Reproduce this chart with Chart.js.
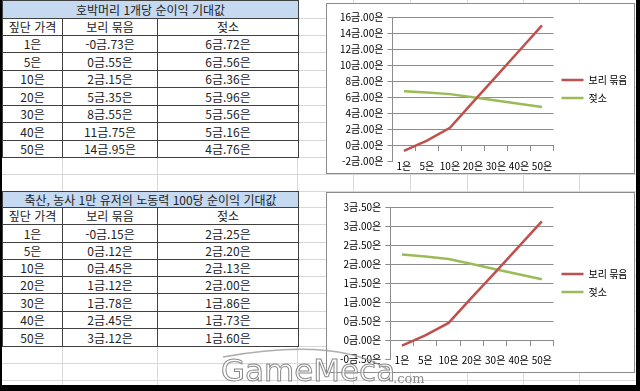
<!DOCTYPE html>
<html lang="ko">
<head>
<meta charset="UTF-8">
<title>순이익 기대값</title>
<script src="https://cdn.jsdelivr.net/npm/chart.js"></script>
<style>
  body { margin: 0; background: #000; }
  #sheet { position: relative; width: 640px; height: 391px; background: #000; overflow: hidden;
           font-family: "Noto Sans CJK KR", "Noto Sans", sans-serif; }
  #paper { position: absolute; left: 2px; top: 0; width: 634px; height: 385px; background: #fff; }
  #grid { position: absolute; left: 0; top: 0; width: 640px; height: 385px; }
  .gl { position: absolute; background: #d8d8d8; }
  table.t { position: absolute; left: 2px; width: 296px; border-collapse: collapse; table-layout: fixed;
            font-size: 12px; color: #222; background: #fff; }
  table.t td { border: 1px solid #404040; text-align: center; padding: 0; line-height: 14px; white-space: nowrap; }
  table.t td.title { background: #c5d9f1; }
  .box { position: absolute; left: 326px; width: 307px; background: #fff; border: 1px solid #8c8c8c; }
  #wm { position: absolute; left: 215px; top: 343px; pointer-events: none; }
</style>
</head>
<body>
<div id="sheet">
  <div id="paper"></div>
  <div id="grid"></div>

  <table class="t" id="tbl1" style="top:0"></table>
  <table class="t" id="tbl2" style="top:191px"></table>

  <div class="box" style="top:3px;height:169px"><canvas id="chart1"></canvas></div>
  <div class="box" style="top:192px;height:179px"><canvas id="chart2"></canvas></div>

  <svg id="wm" width="250" height="45">
    <path d="M 8 14 Q 120 -6 172 26" fill="none" stroke="#9a9a9a" stroke-width="1.5" opacity="0.8"/>
    <text x="6" y="38" font-family="DejaVu Sans" font-size="31" fill="rgba(255,255,255,0.55)"
          stroke="#8a8a8a" stroke-width="1">GameMeca</text>
    <text x="178" y="40" font-family="DejaVu Serif" font-size="13" fill="#8a8a8a">.com</text>
  </svg>
</div>

<script>
// 짚단 가격
const prices = ['1은', '5은', '10은', '20은', '30은', '40은', '50은'];

// 호박머리 1개당 순이익 기대값 (금)
const pumpkinBarley = [-0.73, 0.55, 2.15, 5.35, 8.55, 11.75, 14.95];
const pumpkinCow = [6.72, 6.56, 6.36, 5.96, 5.56, 5.16, 4.76];

// 축산, 농사 1만 유저의 노동력 100당 순이익 기대값 (금)
const laborBarley = [-0.15, 0.12, 0.45, 1.12, 1.78, 2.45, 3.12];
const laborCow = [2.25, 2.20, 2.13, 2.00, 1.86, 1.73, 1.60];

const seriesNames = ['보리 묶음', '젖소'];
const headers = ['짚단 가격', '보리 묶음', '젖소'];
const title1 = '호박머리 1개당 순이익 기대값';
const title2 = '축산, 농사 1만 유저의 노동력 100당 순이익 기대값';

// 금/은 표시
function gold(v) {
  const a = Math.abs(v);
  let g = Math.floor(a + 1e-9);
  let s = Math.round((a - g) * 100);
  if (s === 100) { g += 1; s = 0; }
  return (v < 0 ? '-' : '') + g + '금.' + String(s).padStart(2, '0') + '은';
}

// 엑셀 눈금선
const grid = document.getElementById('grid');
const rowLines = [18, 35, 52, 70, 87, 105, 122, 140, 157, 174, 191, 207, 224, 242, 259, 276, 293, 311, 328, 346, 363, 380];
const colLines = [62, 157, 297, 353, 410, 467, 523, 579];
rowLines.forEach(y => {
  const d = document.createElement('div');
  d.className = 'gl';
  d.style.cssText = 'left:2px;width:634px;height:1px;top:' + y + 'px';
  grid.appendChild(d);
});
colLines.forEach(x => {
  const d = document.createElement('div');
  d.className = 'gl';
  d.style.cssText = 'top:0;height:385px;width:1px;left:' + x + 'px';
  grid.appendChild(d);
});

function fillTable(id, title, titleH, rowH, barley, cow) {
  const t = document.getElementById(id);
  let html = '<colgroup><col style="width:60px"><col style="width:95px"><col style="width:141px"></colgroup>';
  html += '<tr style="height:' + titleH + 'px"><td class="title" colspan="3">' + title + '</td></tr>';
  html += '<tr style="height:17px"><td>' + headers.join('</td><td>') + '</td></tr>';
  prices.forEach((p, i) => {
    html += '<tr style="height:' + rowH[i] + 'px"><td>' + p + '</td><td>' + gold(barley[i]) + '</td><td>' + gold(cow[i]) + '</td></tr>';
  });
  t.innerHTML = html;
}
fillTable('tbl1', title1, 18, [17, 18, 17, 18, 17, 18, 17], pumpkinBarley, pumpkinCow);
fillTable('tbl2', title2, 16, [18, 17, 17, 17, 18, 17, 18], laborBarley, laborCow);

const GRID = '#8c8c8c';
const FONT = { family: '"Noto Sans CJK KR", "Noto Sans", sans-serif', size: 10 };

function makeChart(id, barley, cow, min, max, step, pad, xPad) {
  new Chart(document.getElementById(id), {
    type: 'line',
    data: {
      labels: prices,
      datasets: [
        { label: seriesNames[0], data: barley, borderColor: '#c0504d', backgroundColor: '#c0504d',
          borderWidth: 2.5, pointRadius: 0, tension: 0 },
        { label: seriesNames[1], data: cow, borderColor: '#9bbb59', backgroundColor: '#9bbb59',
          borderWidth: 2.5, pointRadius: 0, tension: 0 }
      ]
    },
    options: {
      responsive: true,
      maintainAspectRatio: false,
      animation: false,
      layout: { padding: pad },
      plugins: {
        tooltip: { enabled: false },
        legend: {
          position: 'right',
          labels: { color: '#000', font: FONT, usePointStyle: true, pointStyle: 'line',
                    pointStyleWidth: 22, padding: 8 }
        }
      },
      scales: {
        x: {
          position: { y: 0 },
          offset: true,
          grid: { offset: true, drawOnChartArea: false, drawTicks: true, tickLength: 5, color: GRID },
          border: { display: true, color: GRID },
          ticks: { color: '#000', font: FONT, autoSkip: false, maxRotation: 0, minRotation: 0, padding: xPad }
        },
        y: {
          min: min, max: max,
          grid: {
            color: c => (c.tick && c.tick.value === min) ? 'rgba(0,0,0,0)' : GRID,
            tickColor: GRID, tickLength: 5
          },
          border: { display: true, color: GRID },
          ticks: { stepSize: step, color: '#000', font: FONT, padding: 4, callback: v => gold(v) }
        }
      }
    }
  });
}

makeChart('chart1', pumpkinBarley, pumpkinCow, -2, 16, 2, { top: 13, bottom: 12, left: 9, right: 8 }, 10);
makeChart('chart2', laborBarley, laborCow, -0.5, 3.5, 0.5, { top: 14, bottom: 13, left: 9, right: 8 }, 9);
</script>
</body>
</html>
